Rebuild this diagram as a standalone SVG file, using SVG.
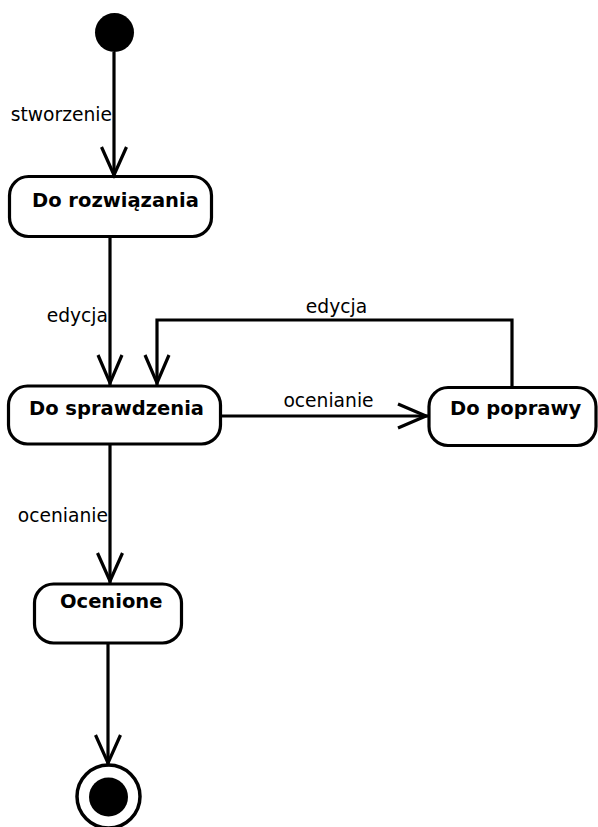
<svg xmlns="http://www.w3.org/2000/svg" width="598" height="827" viewBox="0 0 598 827">
<defs>
<style>
.state{fill:#fff;stroke:#000;stroke-width:3.2}
.name{font-family:"DejaVu Sans",sans-serif;font-weight:bold;font-size:19.5px;fill:#000}
.lbl{font-family:"DejaVu Sans",sans-serif;font-size:18.7px;fill:#000}
.edge{fill:none;stroke:#000;stroke-width:3.2}
.head{fill:none;stroke:#000;stroke-width:3.2}
</style>
</defs>
<rect width="598" height="827" fill="#fff"/>
<g id="start"><circle cx="114.5" cy="32.5" r="19.5" fill="#000"/></g>
<g id="do-rozwiazania"><rect class="state" x="9.5" y="176.5" width="202" height="60" rx="19"/><text class="name" x="32" y="207">Do rozwiązania</text></g>
<g id="do-sprawdzenia"><rect class="state" x="8.5" y="386" width="212" height="58" rx="19"/><text class="name" x="29" y="415">Do sprawdzenia</text></g>
<g id="do-poprawy"><rect class="state" x="429" y="387.5" width="167" height="58" rx="19"/><text class="name" x="450" y="415">Do poprawy</text></g>
<g id="ocenione"><rect class="state" x="34.5" y="584" width="147" height="59" rx="19"/><text class="name" x="60" y="608">Ocenione</text></g>
<g id="end"><circle cx="108.5" cy="796.5" r="31.5" fill="#fff" stroke="#000" stroke-width="3.5"/><circle cx="108.5" cy="797" r="19.5" fill="#000"/></g>
<g id="connectors">
<path class="edge" d="M114 52V176"/><path class="head" d="M101.5 147L114 175L126.5 147"/>
<text class="lbl" x="112" y="121" text-anchor="end">stworzenie</text>
<path class="edge" d="M110 237V385"/><path class="head" d="M98 355L110 383L122 355"/>
<text class="lbl" x="108" y="322" text-anchor="end">edycja</text>
<path class="edge" d="M512 387V320H157V385"/><path class="head" d="M145 355L157 383L169 355"/>
<text class="lbl" x="336.5" y="313" text-anchor="middle">edycja</text>
<path class="edge" d="M222 416H428"/><path class="head" d="M398 404L426 416L398 428"/>
<text class="lbl" x="328.5" y="407" text-anchor="middle">ocenianie</text>
<path class="edge" d="M110 445V583"/><path class="head" d="M97.5 553L110 581L122.5 553"/>
<text class="lbl" x="108" y="522" text-anchor="end">ocenianie</text>
<path class="edge" d="M108 644V764"/><path class="head" d="M95.5 735L108 763L120.5 735"/>
</g>
</svg>
